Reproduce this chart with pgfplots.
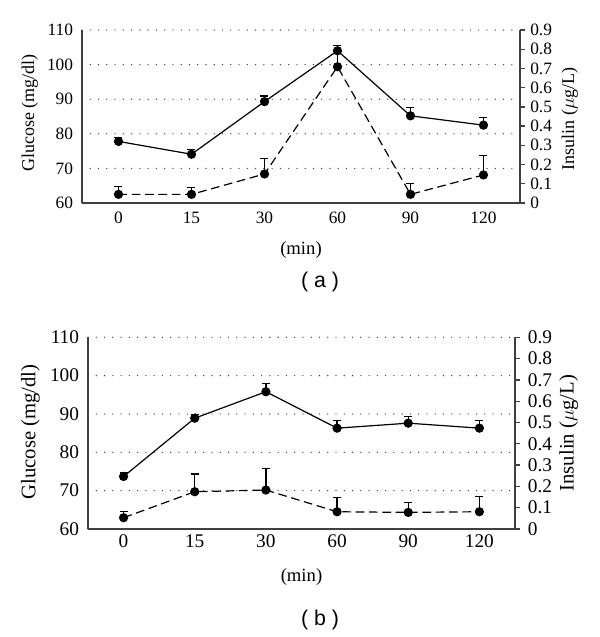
\documentclass[border=0pt]{standalone}
\usepackage{pgfplots}
\usepackage{pgfplotstable}
\pgfplotsset{compat=1.18}
\usepackage{fontspec}
\setmainfont{Liberation Serif}
\newfontfamily\capfont{Liberation Sans}

% x  glucose  err  insulin  err
\pgfplotstableread{
x glu gerr ins ierr
0 77.8 1.2 0.045 0.040
1 74.1 1.4 0.045 0.035
2 89.3 1.6 0.151 0.080
3 104.0 1.5 0.709 0.085
4 85.2 2.3 0.045 0.055
5 82.5 2.3 0.146 0.100
}\dataa

\pgfplotstableread{
x glu gerr ins ierr
0 73.7 1.1 0.053 0.030
1 88.9 0.9 0.175 0.083
2 95.8 2.2 0.183 0.100
3 86.3 1.9 0.081 0.066
4 87.6 1.7 0.078 0.047
5 86.3 1.9 0.081 0.070
}\datab

\colorlet{axiscol}{black!75}

\pgfplotsset{
  base/.style={
    scale only axis,
    anchor=south west,
    xmin=-0.5, xmax=5.5,
    axis line style={axiscol, line width=1.1pt},
    /pgf/number format/assume math mode=true,
  },
  glu/.style={
    base,
    ymin=60, ymax=110,
    ytick={60,70,...,110},
    xtick={0,...,5},
    xticklabels={0,15,30,60,90,120},
    axis x line*=bottom,
    axis y line*=left,
    major tick length=0pt,
    ymajorgrids,
    grid style={black!80, line width=1pt, line cap=round, dash pattern=on 0pt off 6.2pt},
    xticklabel style={anchor=center, inner sep=0pt},
    yticklabel style={anchor=east, inner sep=0pt, xshift=-6.5pt},
  },
  ins/.style={
    base,
    ymin=0, ymax=0.9,
    ytick={0,0.1,0.2,0.3,0.4,0.5,0.6,0.7,0.8,0.9},
    yticklabel style={/pgf/number format/fixed, /pgf/number format/precision=1},
    xtick=\empty,
    axis x line=none,
    axis y line*=right,
    tick align=outside,
    major tick length=3.5pt,
    tick style={axiscol, line width=1pt},
  },
  common/.style={black, line width=0.9pt, mark=*, mark size=3pt,
    mark options={solid, fill=black},
    error bars/.cd, y dir=plus, y explicit,
    error bar style={solid, line width=0.9pt},
    error mark options={rotate=90, mark size=3pt, line width=0.9pt, solid}},
  gline/.style={solid, common},
  iline/.style={dash pattern=on 6.5pt off 3.5pt, common},
}

\begin{document}
\begin{tikzpicture}
\useasboundingbox (0,0) rectangle (450pt,-477.75pt);

% ---- panel (a)
\begin{axis}[glu, at={(61.5pt,-152.25pt)}, width=328.5pt, height=129.75pt,
    tick label style={font=\fontsize{13}{15}\selectfont},
    xticklabel style={yshift=-11.25pt},
    xlabel={(min)},
    xlabel style={at={(axis description cs:0.5,0)}, anchor=center, yshift=-35.25pt, font=\fontsize{14}{16}\selectfont},
    ylabel={Glucose (mg/dl)},
    ylabel style={at={(axis description cs:-0.119,0.52)}, anchor=center, font=\fontsize{13.5}{15}\selectfont},
]
\addplot[gline] table[x=x, y=glu, y error=gerr] {\dataa};
\end{axis}
\begin{axis}[ins, at={(61.5pt,-152.25pt)}, width=328.5pt, height=129.75pt,
    tick label style={font=\fontsize{13}{15}\selectfont},
    yticklabel style={anchor=west, inner sep=0pt, xshift=4pt},
    ylabel={Insulin ($\mu$g/L)},
    ylabel style={at={(axis description cs:1.114,0.486)}, anchor=center, font=\fontsize{13.5}{15}\selectfont},
]
\addplot[iline] table[x=x, y=ins, y error=ierr] {\dataa};
\end{axis}
\node[font=\capfont\fontsize{16}{18}\selectfont] at (240pt,-211.3pt) {( a )};

% ---- panel (b)
\begin{axis}[glu, at={(66pt,-396.75pt)}, width=320.25pt, height=143.8pt,
    tick label style={font=\fontsize{14.5}{16}\selectfont},
    xticklabel style={yshift=-8.8pt},
    xlabel={(min)},
    xlabel style={at={(axis description cs:0.5,0)}, anchor=center, yshift=-35.8pt, font=\fontsize{14}{16}\selectfont},
    ylabel={Glucose (mg/dl)},
    ylabel style={at={(axis description cs:-0.135,0.506)}, anchor=center, font=\fontsize{15.5}{17}\selectfont},
]
\addplot[gline] table[x=x, y=glu, y error=gerr] {\datab};
\end{axis}
\begin{axis}[ins, at={(66pt,-396.75pt)}, width=320.25pt, height=143.8pt,
    tick label style={font=\fontsize{14.5}{16}\selectfont},
    yticklabel style={anchor=west, inner sep=0pt, xshift=6pt},
    ylabel={Insulin ($\mu$g/L)},
    ylabel style={at={(axis description cs:1.126,0.5)}, anchor=center, font=\fontsize{15.5}{17}\selectfont},
]
\addplot[iline] table[x=x, y=ins, y error=ierr] {\datab};
\end{axis}
\node[font=\capfont\fontsize{16}{18}\selectfont] at (240pt,-465pt) {( b )};
\end{tikzpicture}
\end{document}
